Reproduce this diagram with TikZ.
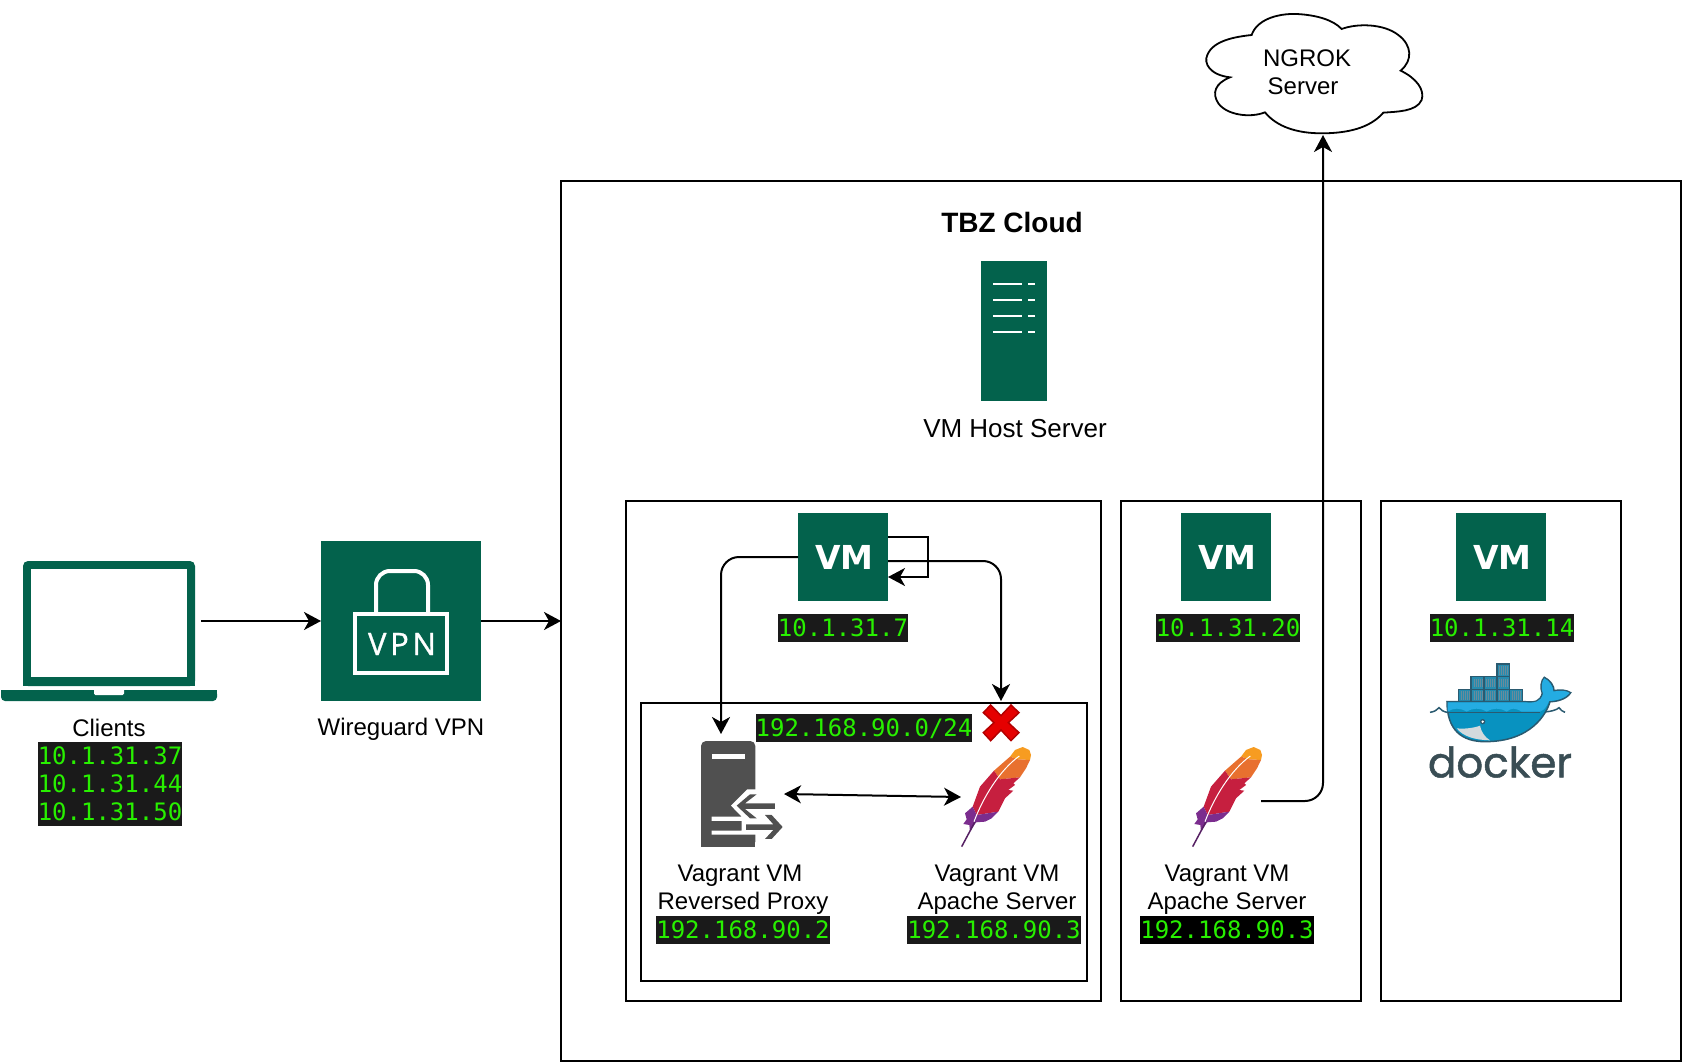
\documentclass[tikz,border=0pt]{standalone}
\usepackage{fontspec}
\setmainfont{Liberation Sans}
\setmonofont{DejaVu Sans Mono}
\newfontfamily\vmfont{DejaVu Sans}
\newfontfamily\vpnfont[LetterSpace=12,FakeBold=1]{Open Sans}
\newfontfamily\dockerfont[FakeBold=1.2]{Poppins}
\usetikzlibrary{arrows.meta,positioning}
\definecolor{awsgreen}{RGB}{3,98,76}
\definecolor{termbg}{RGB}{26,26,26}
\definecolor{termgreen}{RGB}{40,240,0}
\definecolor{proxygrey}{RGB}{80,80,80}
\definecolor{dockerink}{RGB}{57,77,84}
\definecolor{dockerline}{RGB}{42,90,112}
\definecolor{dockercell}{RGB}{38,140,175}
\definecolor{dockerhull}{RGB}{8,146,192}
\definecolor{dockersky}{RGB}{36,172,226}
\definecolor{featherone}{RGB}{247,156,33}
\definecolor{feathertwo}{RGB}{232,112,47}
\definecolor{featherred}{RGB}{198,31,63}
\definecolor{featherviolet}{RGB}{123,45,142}

\begin{document}
\begin{tikzpicture}[x=1pt,y=-1pt,font=\fontsize{24}{28}\selectfont,
  frame/.style={draw,line width=2.4pt,inner sep=0pt,outer sep=0pt},
  vmicon/.style={fill=awsgreen,text=white,inner sep=0pt,outer sep=0pt,minimum width=90pt,minimum height=88pt,font=\fontsize{33}{36}\selectfont\vmfont\bfseries},
  iplbl/.style={fill=termbg,text=termgreen,inner sep=0pt,outer sep=0pt,minimum height=28pt,font=\fontsize{24}{28}\selectfont\ttfamily,align=center},
  lbl/.style={inner sep=0pt,align=center},
  iconspot/.style={inner sep=0pt,outer sep=0pt},
  arr/.style={-{Stealth[length=17pt,width=18pt,inset=5pt]},line width=2pt},
  pics/feather/.style={code={
    \begin{scope}[scale=0.3333]
    \fill[featherone] (180,170) -- (195,150) -- (218,141) -- (238,150) -- (243,165) -- (240,180) -- (205,178) -- cycle;
    \fill[feathertwo] (132,212) -- (180,170) -- (205,178) -- (240,180) -- (228,205) -- (210,232) -- (150,238) -- cycle;
    \fill[featherred] (132,212) -- (150,238) -- (210,232) -- (190,250) -- (195,255) -- (175,270) -- (190,272) -- (165,295) -- (145,335) -- (80,345) -- (68,320) -- (90,260) -- cycle;
    \fill[featherviolet] (68,320) -- (80,345) -- (145,335) -- (125,355) -- (105,365) -- (78,367) -- (60,395) -- (58,375) -- (40,372) -- (50,358) -- (45,340) -- cycle;
    \draw[featherviolet!70!black,line width=1.5pt] (35,440) -- (75,365);
    \draw[white,line width=1pt] (72,365) .. controls (100,290) and (150,210) .. (208,168);
    \end{scope}}}]
\useasboundingbox (0,0) rectangle (1682,1062);

\node[frame,minimum width=1120pt,minimum height=880pt] (tbzcloud) at (1121,621) {};
\node[frame,minimum width=475pt,minimum height=500pt] (vmboxone) at (863.5,751) {};
\node[frame,minimum width=446pt,minimum height=278pt] (subnetbox) at (864,842) {};
\node[frame,minimum width=240pt,minimum height=500pt] (vmboxtwo) at (1241,751) {};
\node[frame,minimum width=240pt,minimum height=500pt] (vmboxthree) at (1501,751) {};

% laptop
\fill[awsgreen,rounded corners=5pt] (23,686) -- (23,561) -- (195,561) -- (195,686) -- cycle;
\fill[awsgreen] (23,680) rectangle (195,686);
\fill[white] (31,569) rectangle (187,677);
\fill[awsgreen,rounded corners=4pt] (1,690) -- (1,701) -- (217,701) -- (217,690) -- cycle;
\fill[awsgreen] (1,690) rectangle (217,695);
\fill[white,rounded corners=1.5pt] (94,688) -- (94,695) -- (124,695) -- (124,688) -- cycle;
\coordinate (laptopout) at (201,621);
\node[lbl] (clientslbl) at (109,728) {Clients};
\node[iplbl,minimum height=84pt] (clientsip) at (110,784) {10.1.31.37\\10.1.31.44\\10.1.31.50};

% vpn
\node[fill=awsgreen,minimum size=160pt,inner sep=0pt,outer sep=0pt] (vpnbox) at (401,621) {};
\draw[white,line width=4pt,rounded corners=14pt] (376,612) -- (376,571) -- (428,571) -- (428,612);
\draw[white,line width=4pt] (355,614) rectangle (447,673);
\node[text=white,inner sep=0pt,font=\fontsize{31}{34}\selectfont\vpnfont] (vpntxt) at (402,644) {VPN};
\node[lbl] (vpnlbl) at (401,729) {Wireguard VPN};

% host server
\node[lbl,font=\fontsize{28}{32}\selectfont\bfseries] (cloudlbl) at (1012,222) {TBZ Cloud};
\node[fill=awsgreen,minimum width=66pt,minimum height=140pt,inner sep=0pt] (hostserver) at (1014,331) {};
\foreach \ypos in {284,300,316,332} {
  \draw[white,line width=2.4pt] (993,\ypos) -- (1022,\ypos) (1028,\ypos) -- (1035,\ypos);
}
\node[lbl,font=\fontsize{26}{30}\selectfont] (hostlbl) at (1015,429) {VM Host Server};

% vms
\node[vmicon] (vmone) at (843,557) {\kern3pt VM};
\node[vmicon] (vmtwo) at (1226,557) {\kern3pt VM};
\node[vmicon] (vmthree) at (1501,557) {\kern3pt VM};
\node[iplbl] (ipone) at (843,628) {10.1.31.7};
\node[iplbl] (iptwo) at (1228,628) {10.1.31.20};
\node[iplbl] (ipthree) at (1502,628) {10.1.31.14};
\node[iplbl,text depth=0pt,text height=17.5pt] (ipsubnet) at (864,728) {192.168.90.0/24};

% proxy
\begin{scope}[shift={(695,735)},scale=0.3333]
\fill[proxygrey,rounded corners=5pt] (18,335) -- (18,18) -- (181,18) -- (181,335) -- cycle;
\fill[proxygrey] (18,300) rectangle (181,335);
\fill[white] (50,58) rectangle (150,72);
\fill[white] (108,212) -- (157,163) -- (190,163) -- (190,299) -- (50,299) -- (50,287) -- (140,287) -- (140,258) -- (50,258) -- (50,245) -- (140,245) -- cycle;
\fill[proxygrey] (125,212) -- (165,178) -- (185,178) -- (150,205) -- (240,205) -- (240,222) -- (150,222) -- (185,250) -- (165,250) -- cycle;
\fill[proxygrey] (153,268) -- (235,268) -- (210,240) -- (230,240) -- (263,276) -- (230,312) -- (210,312) -- (235,285) -- (153,285) -- cycle;
\end{scope}
\node[iconspot,minimum width=83pt,minimum height=106pt] (proxyicon) at (742.5,794) {};
\coordinate (proxyin) at (721,734);
\node[lbl] (proxylbl) at (741.5,890) {Vagrant VM\hspace*{3pt}\\\hspace*{3pt}Reversed Proxy};
\node[iplbl] (proxyip) at (743,930) {192.168.90.2};

% apache
\pic at (950,700) {feather};
\node[iconspot,minimum width=70pt,minimum height=100pt] (apacheone) at (996,797) {};
\node[lbl] (apacheonelbl) at (997,890) {Vagrant VM\\Apache Server};
\node[iplbl] (apacheoneip) at (994,930) {192.168.90.3};
\pic at (1181,700) {feather};
\node[iconspot,minimum width=70pt,minimum height=100pt] (apachetwo) at (1226,801) {};
\node[lbl] (apachetwolbl) at (1227,890) {Vagrant VM\\Apache Server};
\node[iplbl,fill=black] (apachetwoip) at (1227,930) {192.168.90.3};

% blocked mark
\begin{scope}[shift={(950,700)},scale=0.3333]
\filldraw[fill=red!90!black,draw=red!70!black,line width=1.5pt] (100,38) -- (122,15) -- (153,47) -- (183,15) -- (207,38) -- (175,68) -- (207,98) -- (183,122) -- (153,90) -- (122,122) -- (100,98) -- (132,68) -- cycle;
\end{scope}
\coordinate (blocked) at (1001,701);

% docker
\begin{scope}[shift={(1425,660)},scale=0.3333]
\foreach \cellx/\celly in {100/88,138.5/88,177/88,215.5/88,254/88,138.5/50,177/50,215.5/50,215.5/12} {
  \filldraw[fill=dockercell,draw=dockerline,line width=1.5pt] (\cellx,\celly) rectangle ++(38.5,38);
  \foreach \hatch in {8,14,20,26,32} {
    \draw[dockerline!70,line width=0.5pt] ({\cellx+\hatch},{\celly+6}) -- ++(0,26);
  }
}
\draw[dockerline,line width=1.5pt] (15,157) .. controls (30,155) and (35,150) .. (42,143) .. controls (48,150) and (55,155) .. (66,157) -- (345,157) .. controls (380,155) and (395,150) .. (402,143) .. controls (408,150) and (412,155) .. (420,157);
\filldraw[fill=dockerhull,draw=dockerline,line width=1.5pt] (66,125) -- (300,125) .. controls (330,128) and (345,125) .. (352,100) .. controls (345,85) and (348,60) .. (358,52) .. controls (375,60) and (388,78) .. (387,92) .. controls (405,88) and (425,90) .. (437,98) .. controls (425,118) and (395,125) .. (375,125) .. controls (365,160) and (320,245) .. (180,245) .. controls (110,245) and (66,210) .. (66,125) -- cycle;
\fill[dockersky] (68,127) -- (300,127) .. controls (330,130) and (348,125) .. (354,102) .. controls (348,85) and (350,62) .. (358,55) .. controls (373,62) and (385,80) .. (385,95) .. controls (405,90) and (425,92) .. (434,99) .. controls (420,115) and (395,122) .. (372,123) .. controls (365,140) and (358,150) .. (345,155) -- (290,155) .. controls (270,143) and (260,143) .. (245,155) .. controls (225,143) and (205,143) .. (185,155) .. controls (165,143) and (145,143) .. (125,155) .. controls (105,143) and (85,143) .. (68,155) -- cycle;
\draw[dockerline,line width=1.5pt] (66,157) -- (345,157);
\filldraw[fill=cyan!15!gray!35!white,draw=none] (95,205) .. controls (120,208) and (150,203) .. (165,197) .. controls (168,215) and (180,232) .. (195,241) .. controls (150,240) and (115,230) .. (95,205) -- cycle;
\fill[dockerline] (173,185) circle (8);
\fill[white] (173,185) circle (4);
\end{scope}
\node[iconspot,minimum width=141pt,minimum height=78pt] (dockericon) at (1500,703) {};
\node[iconspot,text=dockerink,font=\fontsize{42}{46}\selectfont\dockerfont] (dockertxt) at (1500,762) {docker};

% cloud
\begin{scope}[shift={(1100,0)},scale=0.3333]
\draw[line width=1.8pt] (455,105) .. controls (470,60) and (530,40) .. (590,42) .. controls (650,45) and (700,60) .. (725,87) .. controls (770,70) and (850,70) .. (895,105) .. controls (935,135) and (940,180) .. (902,212) .. controls (950,235) and (975,270) .. (965,300) .. controls (950,335) and (890,335) .. (850,338) .. controls (810,385) and (740,400) .. (665,400) .. controls (590,400) and (530,380) .. (495,337) .. controls (450,355) and (380,345) .. (355,310) .. controls (335,280) and (345,250) .. (390,232) .. controls (330,225) and (310,190) .. (322,165) .. controls (340,120) and (410,110) .. (455,105) -- cycle;
\end{scope}
\node[lbl] (ngrok) at (1305,72) {\hspace*{4pt}NGROK\\Server\hspace*{4pt}};
\coordinate (ngrokin) at (1323,135);

\draw[arr] (laptopout) -- (vpnbox.west);
\draw[arr] (vpnbox.east) -- (tbzcloud.west);
\draw[arr,rounded corners=18pt] (vmone.west) -| (proxyin);
\draw[arr,rounded corners=18pt] ([yshift=-4pt]vmone.east) -| (blocked);
\draw[arr] ([yshift=20pt]vmone.east) -- ++(40,0) -- ++(0,40) -- ([yshift=-20pt]vmone.east);
\draw[arr,{Stealth[length=17pt,width=18pt,inset=5pt]}-{Stealth[length=17pt,width=18pt,inset=5pt]}] (proxyicon.east) -- (apacheone.west);
\draw[arr,rounded corners=18pt] (apachetwo.east) -| (ngrokin);
\end{tikzpicture}
\end{document}
